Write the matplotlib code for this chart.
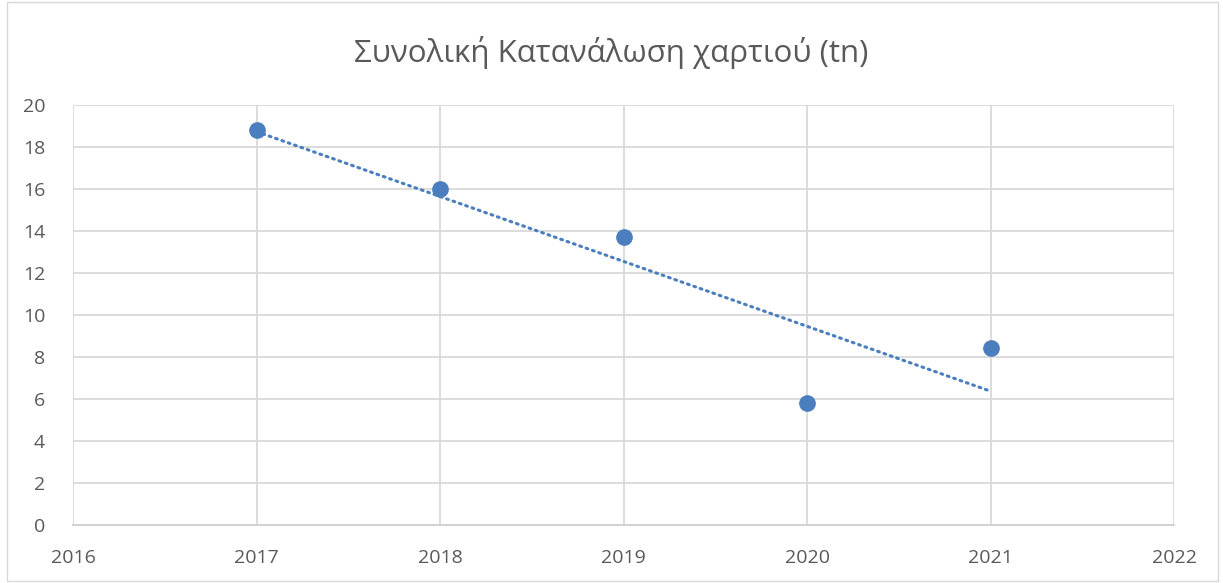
import matplotlib.pyplot as plt
import numpy as np
from matplotlib.patches import Rectangle

years = [2017, 2018, 2019, 2020, 2021]
paper_tn = [18.8, 16.0, 13.7, 5.8, 8.45]
x_ticks = [2016, 2017, 2018, 2019, 2020, 2021, 2022]
y_ticks = [0, 2, 4, 6, 8, 10, 12, 14, 16, 18, 20]

plt.rcParams['font.family'] = ['Open Sans', 'DejaVu Sans']

fig = plt.figure(figsize=(12.23, 5.83), dpi=100)
ax = fig.add_axes([0.0597, 0.0995, 0.9003, 0.7205])

# trendline via least squares
coef = np.polyfit(years, paper_tn, 1)
trend = np.polyval(coef, years)
ax.plot(years, trend, linestyle=(0, (0.6, 1.6)), color='#4a7ebf', lw=2.2,
        dash_capstyle='round', zorder=3)
ax.plot(years, paper_tn, 'o', color='#4a7ebf', markersize=11, zorder=4)

ax.set_xlim(2016, 2022)
ax.set_ylim(0, 20)
ax.set_xticks(x_ticks)
ax.set_yticks(y_ticks)
ax.grid(color='#d9d9d9', lw=1.3)
ax.set_axisbelow(True)
for s in ax.spines.values():
    s.set_visible(False)
ax.spines['bottom'].set_visible(True)
ax.spines['bottom'].set_color('#d0d0d0')
ax.spines['bottom'].set_linewidth(1.3)
ax.tick_params(length=0, labelsize=14, labelcolor='#595959')
ax.tick_params(axis='x', pad=17)
ax.tick_params(axis='y', pad=20)

fig.text(0.5, 0.91, 'Συνολική Κατανάλωση χαρτιού (tn)', ha='center', va='center',
         fontsize=22.5, color='#595959')

fig.patches.append(Rectangle((0.006, 0.003), 0.99, 0.994, transform=fig.transFigure,
                             fill=False, edgecolor='#d9d9d9', lw=1))

fig.savefig('out.png', dpi=100)
